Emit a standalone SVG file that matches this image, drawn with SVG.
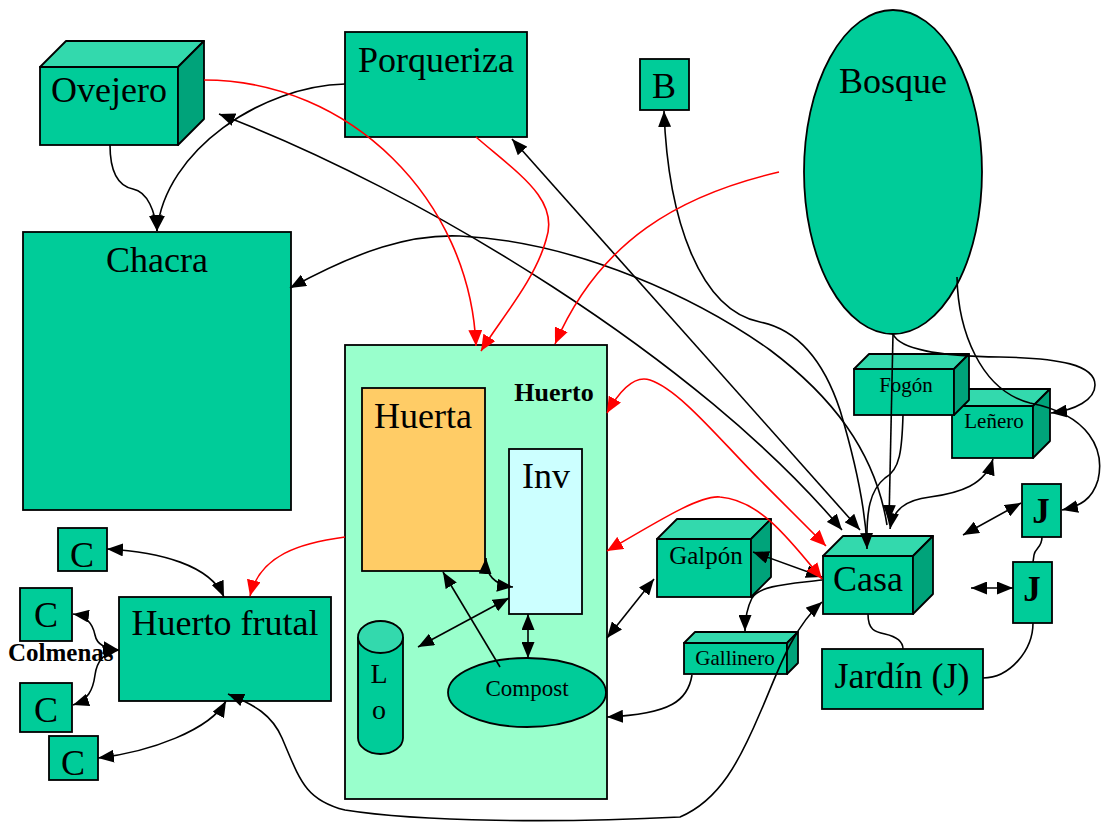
<svg xmlns="http://www.w3.org/2000/svg" width="1102" height="822" viewBox="0 0 1102 822">
<style>
.f{fill:#00CC99;stroke:#000;stroke-width:1.8}
.t{fill:#33D9AD;stroke:#000;stroke-width:1.8;stroke-linejoin:round}
.s{fill:#00A37A;stroke:#000;stroke-width:1.8;stroke-linejoin:round}
text{font-family:"Liberation Serif","Times New Roman",serif;fill:#000;text-anchor:middle}
.big{font-size:36px}
.k{fill:none;stroke:#000;stroke-width:1.6}
.r{fill:none;stroke:#FF0000;stroke-width:1.6}
</style>
<defs>
<marker id="ah" viewBox="0 0 10 10" refX="10" refY="5" markerUnits="userSpaceOnUse" markerWidth="16" markerHeight="13" preserveAspectRatio="none" orient="auto-start-reverse"><path d="M0,0L10,5L0,10z" fill="#000"/></marker>
<marker id="ar" viewBox="0 0 10 10" refX="10" refY="5" markerUnits="userSpaceOnUse" markerWidth="16" markerHeight="14" preserveAspectRatio="none" orient="auto-start-reverse"><path d="M0,0L10,5L0,10z" fill="#FF0000"/></marker>
</defs>
<rect width="1102" height="822" fill="#fff"/>

<g id="huerto">
<rect x="345" y="345" width="262" height="454" fill="#99FFCC" stroke="#000" stroke-width="1.8"/>
<text x="554" y="401" style="font-size:26px;font-weight:bold">Huerto</text>
</g>
<g id="huerta">
<rect x="362" y="388" width="123" height="183" fill="#FFCC66" stroke="#000" stroke-width="1.8"/>
<text class="big" x="423" y="428">Huerta</text>
</g>
<g id="inv">
<rect x="509" y="449" width="73" height="165" fill="#CCFFFF" stroke="#000" stroke-width="1.8"/>
<text class="big" x="546" y="488">Inv</text>
</g>
<g id="lo">
<path class="f" d="M358,637 L358,738 A22.5,16 0 0 0 403,738 L403,637"/>
<ellipse cx="380.5" cy="637" rx="22.5" ry="16" class="t"/>
<text x="379" y="683" style="font-size:28px">L</text>
<text x="379" y="719" style="font-size:28px">o</text>
</g>
<g id="compost">
<ellipse cx="527" cy="692.5" rx="79" ry="34.5" class="f"/>
<text x="527" y="696" style="font-size:23px">Compost</text>
</g>

<g id="ovejero">
<rect class="f" x="40" y="67" width="138" height="78"/>
<polygon class="t" points="40,67 66,41 204,41 178,67"/>
<polygon class="s" points="178,67 204,41 204,119 178,145"/>
<text class="big" x="109" y="102">Ovejero</text>
</g>
<g id="porqueriza">
<rect class="f" x="345" y="32" width="182" height="105"/>
<text class="big" x="436" y="72">Porqueriza</text>
</g>
<g id="b">
<rect class="f" x="640" y="59" width="49" height="51"/>
<text class="big" x="664" y="98">B</text>
</g>
<g id="bosque">
<ellipse class="f" cx="893" cy="172" rx="89" ry="162"/>
<text class="big" x="893" y="93">Bosque</text>
</g>
<g id="chacra">
<rect class="f" x="23" y="232" width="268" height="278"/>
<text class="big" x="157" y="272">Chacra</text>
</g>
<g id="huerto-frutal">
<rect class="f" x="119" y="597" width="212" height="104"/>
<text class="big" x="225" y="635">Huerto frutal</text>
</g>
<g id="c1"><rect class="f" x="58" y="528" width="49" height="43"/><text class="big" x="82" y="567">C</text></g>
<g id="c2"><rect class="f" x="20" y="588" width="52" height="53"/><text class="big" x="46" y="627">C</text></g>
<g id="c3"><rect class="f" x="20" y="683" width="52" height="49"/><text class="big" x="46" y="722">C</text></g>
<g id="c4"><rect class="f" x="49" y="736" width="49" height="44"/><text class="big" x="73" y="775">C</text></g>
<g id="colmenas"><text x="8" y="661" style="font-size:25px;font-weight:bold;text-anchor:start">Colmenas</text></g>

<g id="lenero">
<rect class="f" x="952" y="406" width="81" height="52"/>
<polygon class="t" points="952,406 969,389 1050,389 1033,406"/>
<polygon class="s" points="1033,406 1050,389 1050,441 1033,458"/>
<text x="994" y="428" style="font-size:21px">Leñero</text>
</g>
<g id="fogon">
<rect class="f" x="854" y="369" width="100" height="46"/>
<polygon class="t" points="854,369 869,354 969,354 954,369"/>
<polygon class="s" points="954,369 969,354 969,400 954,415"/>
<text x="906" y="392" style="font-size:21px">Fogón</text>
</g>
<g id="galpon">
<rect class="f" x="657" y="539" width="94" height="58"/>
<polygon class="t" points="657,539 677,519 771,519 751,539"/>
<polygon class="s" points="751,539 771,519 771,577 751,597"/>
<text x="706" y="564" style="font-size:25px">Galpón</text>
</g>
<g id="casa">
<rect class="f" x="823" y="556" width="90" height="58"/>
<polygon class="t" points="823,556 843,536 933,536 913,556"/>
<polygon class="s" points="913,556 933,536 933,594 913,614"/>
<text class="big" x="868" y="591">Casa</text>
</g>
<g id="gallinero">
<rect class="f" x="684" y="643" width="103" height="31"/>
<polygon class="t" points="684,643 695,632 798,632 787,643"/>
<polygon class="s" points="787,643 798,632 798,663 787,674"/>
<text x="735" y="665" style="font-size:21px">Gallinero</text>
</g>
<g id="jardin">
<rect class="f" x="822" y="649" width="161" height="60"/>
<text class="big" x="902" y="688">Jardín (J)</text>
</g>
<g id="j1">
<rect class="f" x="1022" y="484" width="39" height="53"/>
<text x="1041" y="523" style="font-size:35px;font-weight:bold">J</text>
</g>
<g id="j2">
<rect class="f" x="1013" y="562" width="39" height="61"/>
<text x="1032" y="601" style="font-size:35px;font-weight:bold">J</text>
</g>

<g id="connectors">
<path class="k" marker-end="url(#ah)" d="M110,145 C110,172 118,186 133,189 C148,192 155,212 157,231"/>
<path class="k" marker-end="url(#ah)" d="M345,84 C262,86 165,150 157,231"/>
<path class="k" marker-start="url(#ah)" marker-end="url(#ah)" d="M219,114 C420,190 700,360 842,530"/>
<path class="k" marker-start="url(#ah)" marker-end="url(#ah)" d="M512,139 L860,530"/>
<path class="k" marker-start="url(#ah)" d="M290,288 C360,250 410,234 460,236 C580,242 700,300 770,350 C830,395 875,450 887,525"/>
<path class="k" marker-start="url(#ah)" d="M664,111 C668,220 700,310 760,322 C790,328 820,350 840,410 C855,460 865,510 867,545"/>
<path class="k" marker-end="url(#ah)" d="M903,415 C902,450 900,470 885,478 C870,490 866,510 867,549"/>
<path class="k" marker-end="url(#ah)" d="M893,334 L889,521"/>
<path class="k" marker-start="url(#ah)" marker-end="url(#ah)" d="M993,459 C985,485 960,493 930,497 C905,500 893,510 890,529"/>
<path class="k" marker-end="url(#ah)" d="M893,334 C900,350 940,356 1000,357 C1060,358 1095,365 1095,385 C1095,400 1075,410 1051,413"/>
<path class="k" marker-end="url(#ah)" d="M957,277 C958,330 980,390 1030,403 C1090,415 1105,450 1098,480 C1092,500 1080,506 1062,510"/>
<path class="k" marker-start="url(#ah)" marker-end="url(#ah)" d="M1021,503 L963,535"/>
<path class="k" marker-start="url(#ah)" marker-end="url(#ah)" d="M1013,588 L971,588"/>
<path class="k" d="M1042,537 C1042,548 1035,548 1034,555 L1033,562"/>
<path class="k" d="M1033,623 C1033,650 1010,678 983,678"/>
<path class="k" d="M868,614 C868,630 875,632 885,634 C898,637 903,642 903,649"/>
<path class="k" marker-start="url(#ah)" marker-end="url(#ah)" d="M753,552 L822,577"/>
<path class="k" marker-start="url(#ah)" marker-end="url(#ah)" d="M654,579 L607,638"/>
<path class="k" marker-end="url(#ah)" d="M822,580 C790,584 760,585 752,598 C747,608 745,618 745,631"/>
<path class="k" marker-end="url(#ah)" d="M692,675 C688,700 672,714 607,717"/>
<path class="k" marker-start="url(#ah)" marker-end="url(#ah)" d="M228,694 C255,705 272,715 282,738 C300,780 305,800 345,810 C420,822 560,823 680,817 C720,800 740,760 760,713 C775,680 790,630 822,602"/>
<path class="k" marker-start="url(#ah)" marker-end="url(#ah)" d="M107,549 C160,552 210,565 224,597"/>
<path class="k" marker-start="url(#ah)" marker-end="url(#ah)" d="M73,614 C88,616 93,625 95,635 C97,645 105,648 119,650"/>
<path class="k" marker-start="url(#ah)" marker-end="url(#ah)" d="M73,705 C88,700 93,690 95,675 C97,660 105,652 119,650"/>
<path class="k" marker-start="url(#ah)" marker-end="url(#ah)" d="M98,758 C150,752 210,730 226,701"/>
<path class="k" marker-start="url(#ah)" marker-end="url(#ah)" d="M486,558 C485,575 495,585 513,587"/>
<path class="k" marker-end="url(#ah)" d="M500,667 L443,572"/>
<path class="k" marker-start="url(#ah)" marker-end="url(#ah)" d="M509,598 L418,647"/>
<path class="k" marker-start="url(#ah)" marker-end="url(#ah)" d="M528,614 L528,658"/>
<path class="r" marker-end="url(#ar)" d="M204,80 C350,80 470,200 476,346"/>
<path class="r" marker-end="url(#ar)" d="M476,137 C520,175 560,200 546,240 C535,280 500,320 481,351"/>
<path class="r" marker-end="url(#ar)" d="M779,172 C680,195 600,240 555,344"/>
<path class="r" marker-start="url(#ar)" marker-end="url(#ar)" d="M607,413 C620,390 635,375 650,380 C680,390 720,440 760,480 C790,510 810,530 826,546"/>
<path class="r" marker-start="url(#ar)" marker-end="url(#ar)" d="M607,551 C660,520 700,495 720,497 C760,500 790,540 822,579"/>
<path class="r" marker-end="url(#ar)" d="M345,537 C300,543 260,555 250,596"/>
</g>
</svg>
